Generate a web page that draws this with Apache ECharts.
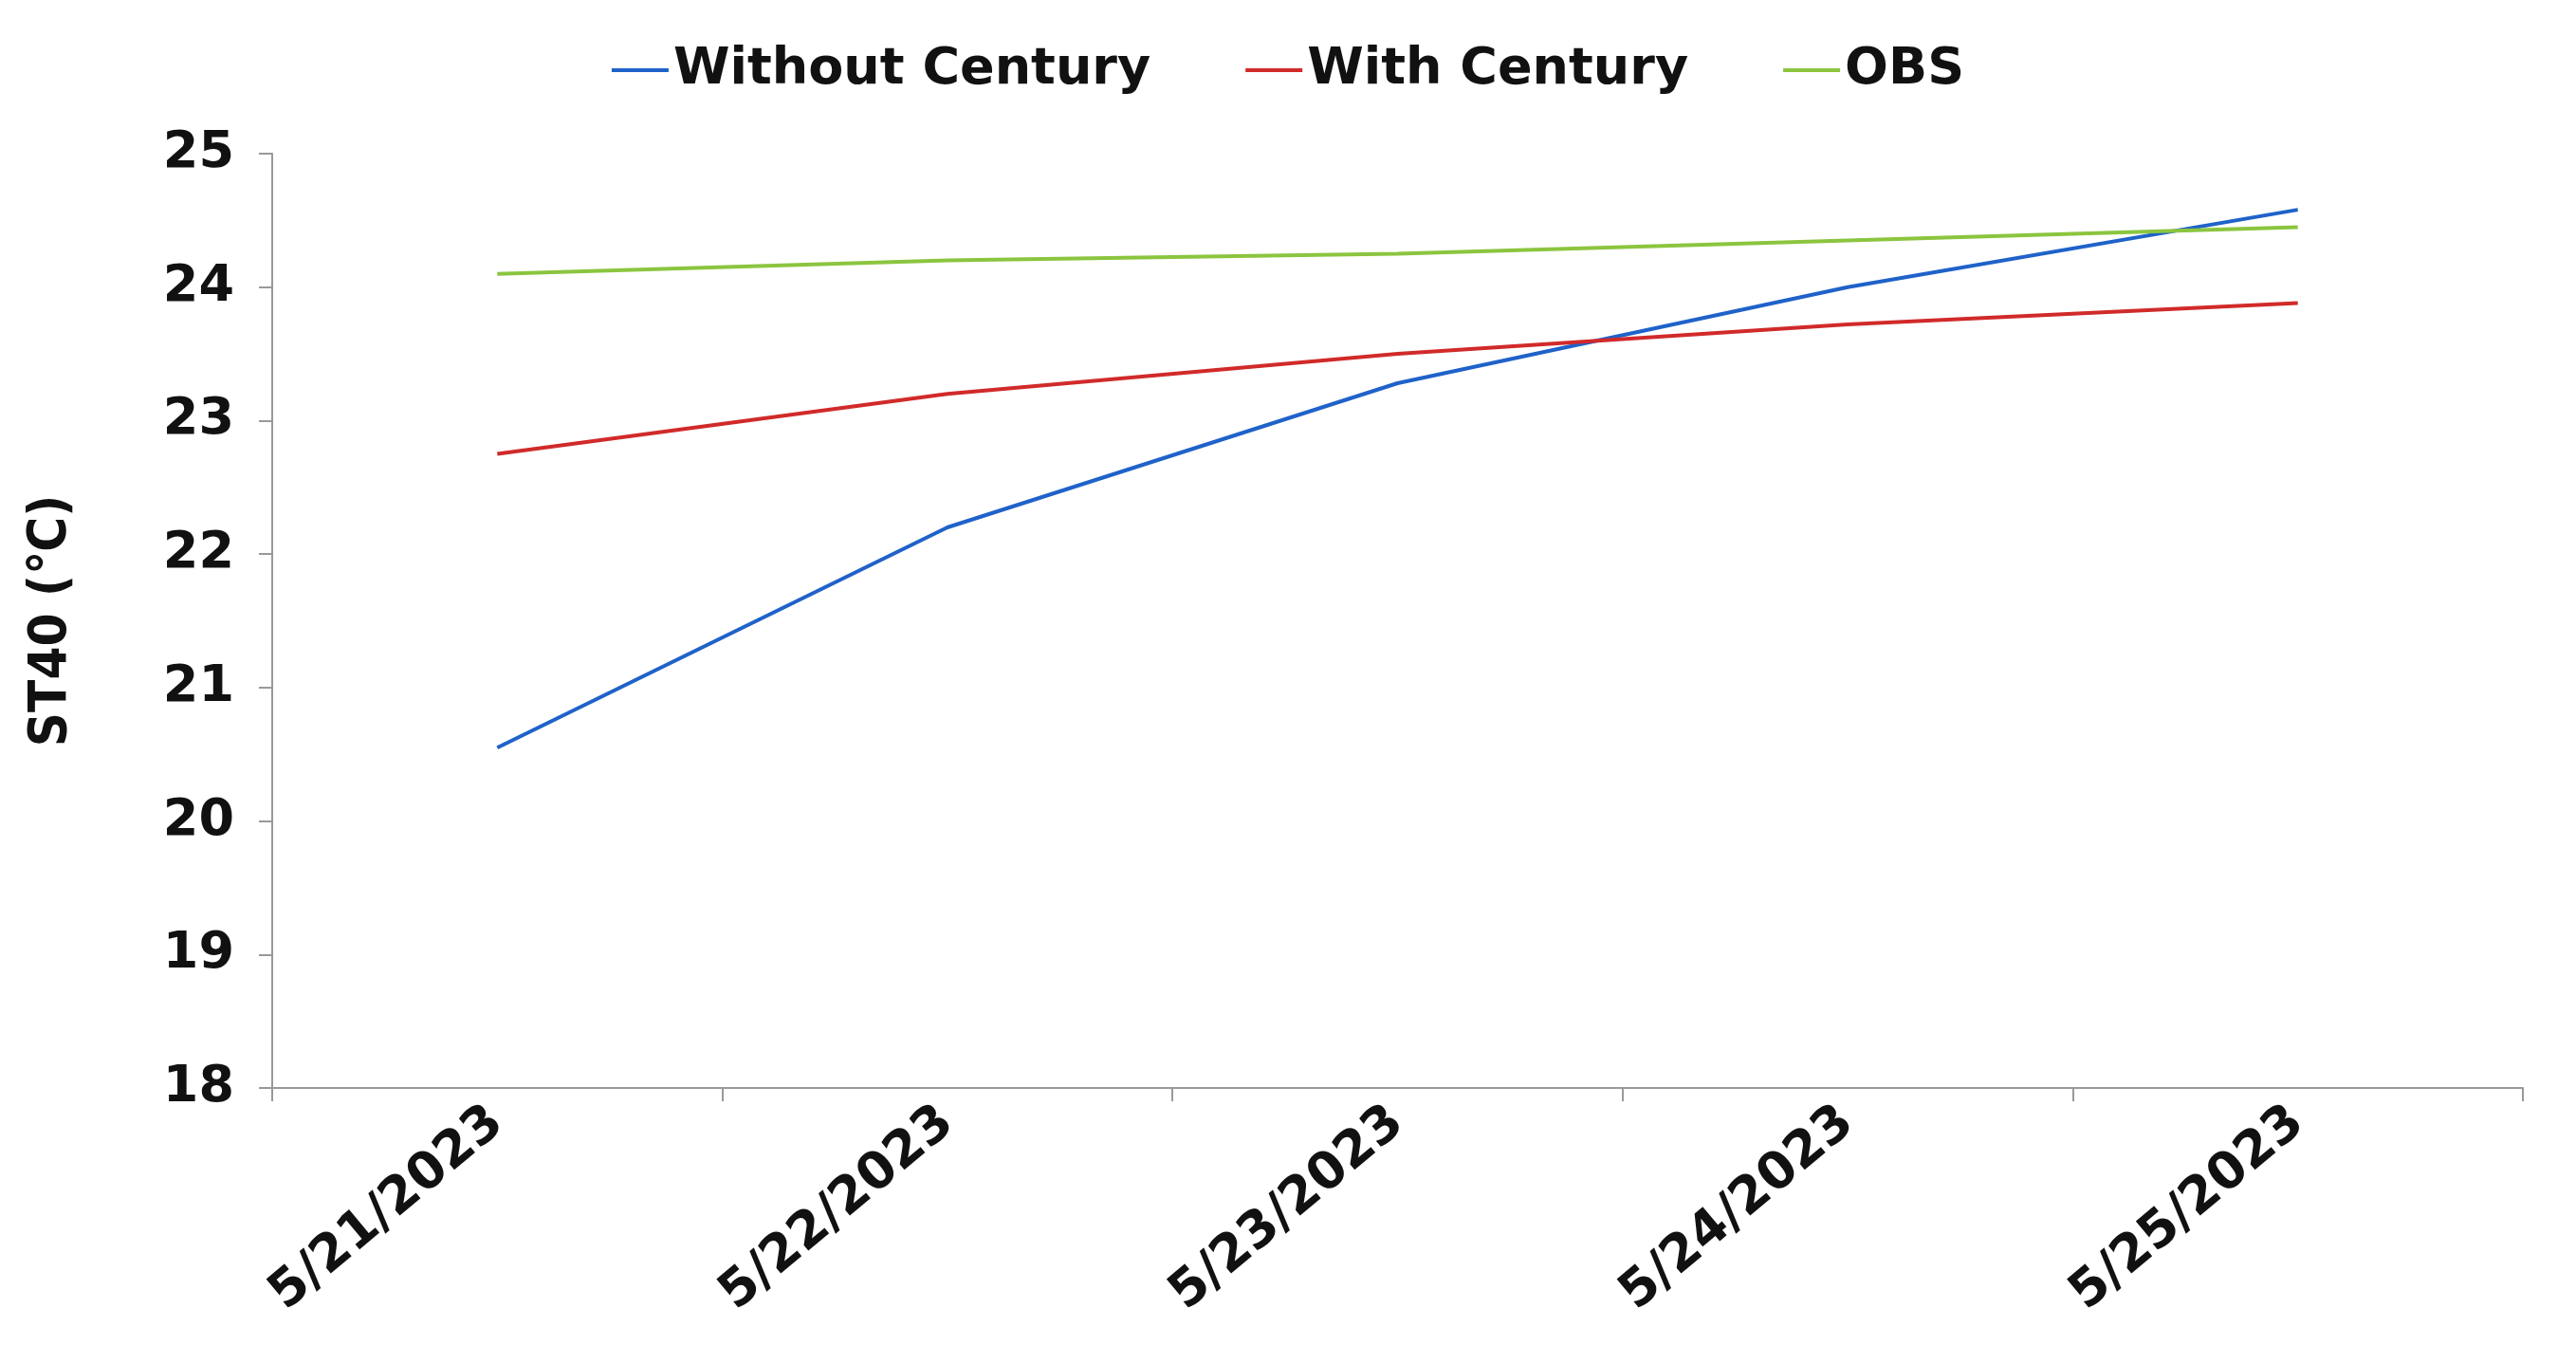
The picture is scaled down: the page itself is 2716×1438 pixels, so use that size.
<!DOCTYPE html>
<html>
<head>
<meta charset="utf-8">
<script src="https://cdn.jsdelivr.net/npm/echarts@6/dist/echarts.min.js"></script>
<style>html,body{margin:0;background:#fff}</style>
</head>
<body>
<div id="main" style="width:2716px;height:1438px;"></div>
<script type="text/javascript">
var dates = ['5/21/2023', '5/22/2023', '5/23/2023', '5/24/2023', '5/25/2023'];
var withoutCentury = [20.55, 22.2, 23.28, 24.0, 24.58];
var withCentury = [22.75, 23.2, 23.5, 23.72, 23.88];
var obs = [24.1, 24.2, 24.25, 24.35, 24.45];

var myChart = echarts.init(document.getElementById('main'));
var font = 'DejaVu Sans';
function line(name, data, color) {
    return {
        name: name, type: 'line', data: data, symbol: 'none',
        lineStyle: { color: color, width: 4 }, itemStyle: { color: color }
    };
}
var option = {
    animation: false,
    legend: {
        top: 42, left: 'center', itemGap: 100, itemWidth: 60, itemHeight: 4,
        icon: 'rect',
        textStyle: { fontFamily: font, fontWeight: 'bold', fontSize: 54, color: '#111' },
        data: ['Without Century', 'With Century', 'OBS']
    },
    grid: { left: 287, right: 56, top: 162, bottom: 291 },
    xAxis: {
        type: 'category', data: dates, boundaryGap: true,
        axisLine: { lineStyle: { color: '#999', width: 2 } },
        axisTick: { show: true, length: 14, lineStyle: { color: '#999', width: 2 } },
        axisLabel: { rotate: 40, margin: 30, fontFamily: font, fontWeight: 'bold', fontSize: 54, color: '#111' }
    },
    yAxis: {
        type: 'value', min: 18, max: 25, interval: 1,
        name: 'ST40 (\u2103)', nameLocation: 'middle', nameGap: 205, nameRotate: 90,
        nameTextStyle: { fontFamily: 'DejaVu Sans Condensed', fontWeight: 'bold', fontSize: 56, color: '#111' },
        axisLine: { show: true, lineStyle: { color: '#999', width: 2 } },
        axisTick: { show: true, length: 14, lineStyle: { color: '#999', width: 2 } },
        splitLine: { show: false },
        axisLabel: { margin: 40, fontFamily: font, fontWeight: 'bold', fontSize: 54, color: '#111' }
    },
    series: [
        line('Without Century', withoutCentury, '#1f62c9'),
        line('With Century', withCentury, '#d12a2a'),
        line('OBS', obs, '#8bc53f')
    ]
};
myChart.setOption(option);
</script>
</body>
</html>
